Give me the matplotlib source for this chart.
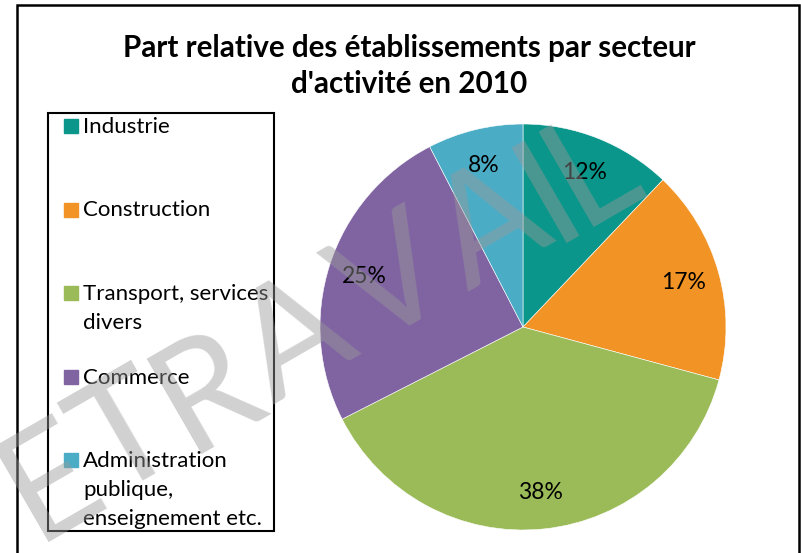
import matplotlib
matplotlib.use("Agg")
import matplotlib.pyplot as plt
import numpy as np
from matplotlib.patches import Rectangle
from matplotlib.textpath import TextPath
from matplotlib.font_manager import FontProperties

# ================= DATA =================
TITLE = "Part relative des établissements par secteur\nd'activité en 2010"
categories = ["Industrie", "Construction", "Transport, services\ndivers",
              "Commerce", "Administration\npublique,\nenseignement etc."]
shares = [12.1, 17.1, 38.3, 24.9, 7.6]
colors = ["#0A968A", "#F29325", "#9BBB59", "#8064A2", "#4BACC6"]
WATERMARK = "ETRAVAIL"
# ========================================

W, H = 801, 553
FONT = "Lato"


def fx(x):
    return x / W


def fy(y):
    return 1 - y / H


fig = plt.figure(figsize=(W / 100, H / 100), dpi=100)
fig.patch.set_facecolor("white")

# outer chart border
fig.patches.append(Rectangle((fx(17), fy(560)), fx(799) - fx(17), fy(5) - fy(560),
                             transform=fig.transFigure, fill=False,
                             edgecolor="black", linewidth=1.8))

# pie: centre (523, 327) px, radius 203 px
cx, cy, r = 523, 327, 203
ax = fig.add_axes([fx(cx - r), fy(cy + r), 2 * r / W, 2 * r / H])
ax.pie(shares, colors=colors, startangle=90, counterclock=False, radius=1,
       autopct="%.0f%%", pctdistance=0.82,
       wedgeprops=dict(edgecolor="white", linewidth=0.4),
       textprops=dict(fontsize=16.5, family=FONT, color="black"))
ax.set_xlim(-1, 1)
ax.set_ylim(-1, 1)
ax.set_aspect("auto")
ax.axis("off")

# title
t1, t2 = TITLE.split("\n")
fig.text(fx(409), fy(57), t1, ha="center", va="baseline",
         fontsize=21.3, fontweight="bold", family=FONT)
fig.text(fx(409), fy(93), t2, ha="center", va="baseline",
         fontsize=21.3, fontweight="bold", family=FONT)

# legend box drawn by hand (Excel spacing)
fig.patches.append(Rectangle((fx(48), fy(531)), fx(274) - fx(48), fy(113) - fy(531),
                             transform=fig.transFigure, fill=False,
                             edgecolor="black", linewidth=1.5))
for i, (lab, col) in enumerate(zip(categories, colors)):
    yc = 126 + i * 83.5
    fig.patches.append(Rectangle((fx(64), fy(yc + 7)), 14 / W, 14 / H,
                                 transform=fig.transFigure, color=col))
    for k, line in enumerate(lab.split("\n")):
        fig.text(fx(83), fy(yc + 7 + k * 29), line, ha="left", va="baseline",
                 fontsize=16, family=FONT)

# watermark: letters spread along a slanted line (pixel coords, y down)
wm_size = 110          # points
wm_angle = 30
wm_gap = 10            # px between letters
fp = FontProperties(family="Lato", weight="normal")
em_px = wm_size * 100 / 72
widths = [TextPath((0, 0), ch, size=em_px, prop=fp).get_extents().width
          for ch in WATERMARK]
centers = np.cumsum([0] + [(widths[i] + widths[i + 1]) / 2 + wm_gap
                           for i in range(len(widths) - 1)])
centers = centers - centers[-1] / 2
d = np.array([np.cos(np.radians(wm_angle)), -np.sin(np.radians(wm_angle))])
mid = np.array([322.0, 326.0])
for ch, c in zip(WATERMARK, centers):
    px, py = mid + c * d
    fig.text(fx(px), fy(py), ch, ha="center", va="center",
             rotation=wm_angle, rotation_mode="anchor", fontsize=wm_size,
             fontproperties=fp, color="#9a9a9a", alpha=0.45, zorder=10)

fig.savefig("out.png", dpi=100)
